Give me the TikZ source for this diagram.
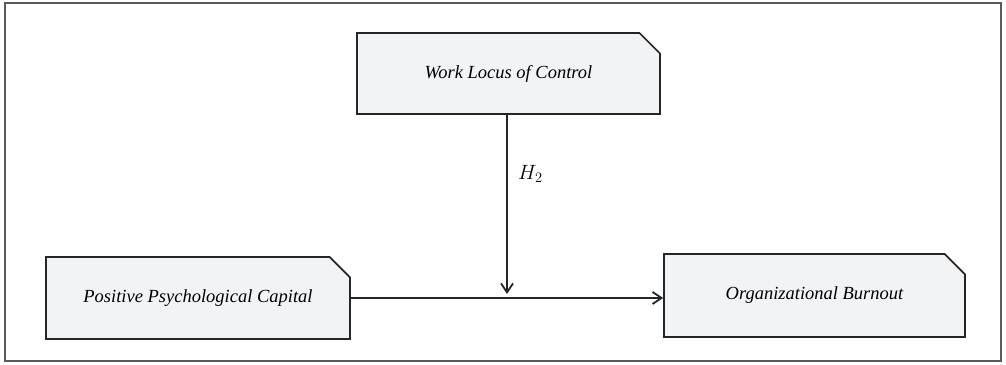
\documentclass[tikz,border=0pt]{standalone}
\usepackage{fontspec}
\setmainfont{Liberation Serif}
\usetikzlibrary{shapes.misc,arrows.meta}
\definecolor{boxgray}{HTML}{F2F3F5}
\definecolor{framegray}{HTML}{5A5A5A}
\definecolor{linegray}{HTML}{262626}
\begin{document}
\begin{tikzpicture}[x=1pt,y=-1pt,
  concept/.style={draw=linegray,line width=1.7pt,fill=boxgray,
    chamfered rectangle,chamfered rectangle corners=north east,
    chamfered rectangle xsep=12pt,chamfered rectangle ysep=12pt,
    inner sep=0pt,font=\fontsize{18.5}{22}\selectfont\itshape},
  link/.style={draw=linegray,line width=1.8pt,-{Straight Barb[length=9pt,width=12pt]}}]
  \useasboundingbox (0,0) rectangle (1006,364);
  \draw[framegray,line width=1.6pt] (5,3) rectangle (1001,361);
  \node[concept,minimum width=303pt,minimum height=81pt] (wlc) at (508.5,73.5) {Work Locus of Control};
  \node[concept,minimum width=304pt,minimum height=82pt] (ppc) at (198,298) {Positive Psychological Capital};
  \node[concept,minimum width=301pt,minimum height=83pt] (ob) at (814.5,295.5) {Organizational Burnout};
  \coordinate (meet) at (507,294);
  \draw[link] (ppc.east) -- (ppc.east -| ob.west);
  \draw[link] (wlc.south -| meet) -- node[right=7pt,pos=0.33,font=\fontsize{19.5}{22}\selectfont] (h2) {$H_2$} (meet);
\end{tikzpicture}
\end{document}
